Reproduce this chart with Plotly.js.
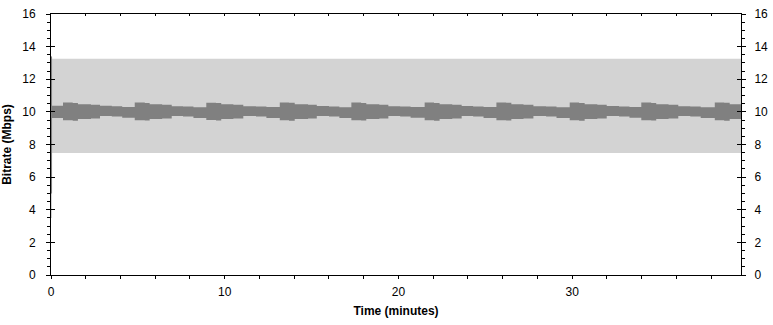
<!DOCTYPE html>
<html>
<head>
<meta charset="utf-8">
<script src="https://cdn.plot.ly/plotly-3.0.1.min.js"></script>
<style>html,body{margin:0;padding:0;background:#fff;}</style>
</head>
<body>
<div id="chart" style="width:773px;height:325px;"></div>
<script>
// Light gray range band (minutes, Mbps)
const rangeTime  = [0, 0.06, 39.72];
const rangeUpper = [13.4, 13.25, 13.25];
const rangeLower = [3.5, 7.48, 7.48];

// Dark gray bitrate band breakpoints (minutes) with upper / lower envelope (Mbps)
const bandTime = [0, 0.06, 0.69, 1.25, 1.55, 2.30, 2.82, 3.50, 4.10, 4.82, 5.40, 5.68, 6.40, 6.95, 7.60, 8.20,
  8.94, 9.50, 9.80, 10.50, 11.07, 11.80, 12.40, 13.17, 13.70, 14.03, 14.80, 15.30, 16.00, 16.60,
  17.29, 17.85, 18.15, 18.90, 19.42, 20.10, 20.70, 21.51, 22.05, 22.37, 23.10, 23.64, 24.30, 24.90,
  25.64, 26.20, 26.50, 27.20, 27.77, 28.50, 29.10, 29.86, 30.40, 30.72, 31.45, 31.99, 32.70, 33.30,
  33.98, 34.55, 34.84, 35.55, 36.11, 36.80, 37.40, 38.21, 38.75, 39.07, 39.72];
const bandUpper = [13.4, 10.37, 10.57, 10.55, 10.47, 10.44, 10.37, 10.34, 10.30, 10.58, 10.55, 10.46, 10.43, 10.35, 10.33, 10.29,
  10.56, 10.55, 10.47, 10.43, 10.35, 10.33, 10.30, 10.58, 10.56, 10.47, 10.44, 10.36, 10.33, 10.29,
  10.57, 10.55, 10.46, 10.43, 10.35, 10.33, 10.30, 10.58, 10.55, 10.47, 10.44, 10.36, 10.33, 10.30,
  10.57, 10.56, 10.47, 10.43, 10.35, 10.33, 10.29, 10.58, 10.55, 10.46, 10.44, 10.36, 10.33, 10.30,
  10.57, 10.55, 10.47, 10.43, 10.35, 10.33, 10.29, 10.58, 10.56, 10.47, 10.47];
const bandLower = [5.0, 9.62, 9.48, 9.46, 9.57, 9.60, 9.75, 9.72, 9.64, 9.49, 9.47, 9.56, 9.59, 9.74, 9.71, 9.63,
  9.50, 9.47, 9.57, 9.60, 9.74, 9.71, 9.63, 9.48, 9.46, 9.57, 9.60, 9.75, 9.72, 9.63,
  9.49, 9.47, 9.56, 9.59, 9.74, 9.71, 9.64, 9.48, 9.46, 9.57, 9.60, 9.75, 9.72, 9.63,
  9.49, 9.47, 9.56, 9.59, 9.74, 9.71, 9.63, 9.48, 9.46, 9.57, 9.60, 9.75, 9.72, 9.64,
  9.49, 9.47, 9.56, 9.59, 9.74, 9.71, 9.63, 9.48, 9.46, 9.57, 9.57];

const xTicks = [0, 10, 20, 30];
const yTicks = [0, 2, 4, 6, 8, 10, 12, 14, 16];

const FONT = 'Liberation Sans, Arial, sans-serif';
const traces = [
  {x: rangeTime, y: rangeLower, type: 'scatter', mode: 'lines', line: {width: 0, shape: 'hv'}, hoverinfo: 'skip', showlegend: false},
  {x: rangeTime, y: rangeUpper, type: 'scatter', mode: 'lines', line: {width: 0, shape: 'hv'}, fill: 'tonexty', fillcolor: '#d3d3d3', hoverinfo: 'skip', showlegend: false},
  {x: bandTime, y: bandLower, type: 'scatter', mode: 'lines', line: {width: 0, shape: 'hv'}, hoverinfo: 'skip', showlegend: false},
  {x: bandTime, y: bandUpper, type: 'scatter', mode: 'lines', line: {width: 0, shape: 'hv'}, fill: 'tonexty', fillcolor: '#808080', hoverinfo: 'skip', showlegend: false},
  {x: [], y: [], xaxis: 'x2', yaxis: 'y2', type: 'scatter', hoverinfo: 'skip', showlegend: false},
  {x: [], y: [], xaxis: 'x', yaxis: 'y3', type: 'scatter', hoverinfo: 'skip', showlegend: false},
  {x: [], y: [], xaxis: 'x', yaxis: 'y4', type: 'scatter', hoverinfo: 'skip', showlegend: false}
];

const yRange = [0, 16];
const xRange = [0, 39.72];
const tickFont = {family: FONT, size: 12, color: '#000'};

const layout = {
  width: 773, height: 325, autosize: false,
  margin: {l: 51, r: 32, t: 14, b: 50, pad: 0},
  paper_bgcolor: '#fff', plot_bgcolor: '#fff',
  showlegend: false,
  xaxis: {
    range: xRange, tickvals: xTicks, ticktext: xTicks.map(String),
    ticks: 'outside', ticklen: 3, tickcolor: '#000', tickwidth: 1,
    minor: {dtick: 2, tick0: 0, ticks: 'outside', ticklen: 3, tickcolor: '#000', showgrid: false},
    showline: true, linecolor: '#000', linewidth: 1, showgrid: false, zeroline: false,
    tickfont: tickFont, ticklabelstandoff: 3,
    title: {text: 'Time (minutes)', font: {family: FONT, size: 12, color: '#000', weight: 'bold'}, standoff: 8},
    fixedrange: true
  },
  xaxis2: {
    overlaying: 'x', side: 'top', anchor: 'y2', range: xRange,
    tickvals: xTicks, ticks: 'inside', ticklen: 2, tickcolor: '#000',
    minor: {dtick: 2, tick0: 0, ticks: 'inside', ticklen: 2, tickcolor: '#000', showgrid: false},
    showticklabels: false, showline: true, linecolor: '#000', linewidth: 1,
    showgrid: false, zeroline: false, fixedrange: true
  },
  yaxis: {
    range: yRange, tickvals: yTicks, ticktext: yTicks.map(String),
    ticks: 'outside', ticklen: 4, tickcolor: '#000', tickwidth: 1,
    minor: {dtick: 0.5, tick0: 0, ticks: 'outside', ticklen: 3, tickcolor: '#000', showgrid: false},
    showline: true, linecolor: '#000', linewidth: 1, showgrid: false, zeroline: false,
    tickfont: tickFont, ticklabelstandoff: 8,
    title: {text: 'Bitrate (Mbps)', font: {family: FONT, size: 12, color: '#000', weight: 'bold'}, standoff: 10},
    fixedrange: true
  },
  yaxis2: {
    overlaying: 'y', side: 'right', anchor: 'x2', range: yRange,
    tickvals: yTicks, ticktext: yTicks.map(String),
    ticks: 'outside', ticklen: 4, tickcolor: '#000',
    minor: {dtick: 0.5, tick0: 0, ticks: 'outside', ticklen: 3, tickcolor: '#000', showgrid: false},
    showline: true, linecolor: '#000', linewidth: 1, showgrid: false, zeroline: false,
    tickfont: tickFont, ticklabelstandoff: 6, fixedrange: true
  },
  yaxis3: {
    overlaying: 'y', side: 'left', anchor: 'x', range: yRange,
    tickvals: yTicks, ticks: 'inside', ticklen: 4, tickcolor: '#000',
    showticklabels: false, showline: false, showgrid: false, zeroline: false, fixedrange: true
  },
  yaxis4: {
    overlaying: 'y', side: 'right', anchor: 'x', range: yRange,
    tickvals: yTicks, ticks: 'inside', ticklen: 4, tickcolor: '#000',
    showticklabels: false, showline: false, showgrid: false, zeroline: false, fixedrange: true
  }
};

Plotly.newPlot('chart', traces, layout, {displayModeBar: false, staticPlot: true});
</script>
</body>
</html>
